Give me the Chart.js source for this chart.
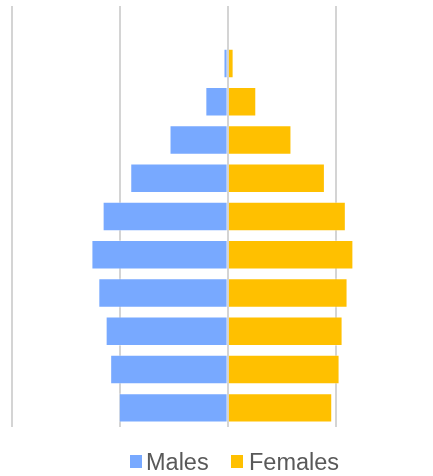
<!DOCTYPE html>
<html>
<head>
<meta charset="utf-8">
<script src="https://cdn.jsdelivr.net/npm/chart.js@4.4.1/dist/chart.umd.min.js"></script>
<style>
  html, body { margin: 0; padding: 0; background: #fff; }
  #wrap { position: relative; width: 433px; height: 476px; }
  #chart { position: absolute; left: 0; top: 0; }
  .lg-box { position: absolute; width: 12px; height: 13px; top: 455px; }
  .lg-text { position: absolute; top: 449px; line-height: 24px; font: 23.5px "Liberation Sans", Arial, sans-serif; color: #595959; white-space: nowrap; }
</style>
</head>
<body>
<div id="wrap">
  <canvas id="chart" width="433" height="476"></canvas>
  <div class="lg-box" style="left:130px;background:#78a9ff"></div>
  <div class="lg-text" style="left:146px">Males</div>
  <div class="lg-box" style="left:231px;background:#ffc000"></div>
  <div class="lg-text" style="left:249px">Females</div>
</div>
<script>
// age groups, oldest at the top
const ageGroups = ['100+', '90-99', '80-89', '70-79', '60-69', '50-59', '40-49', '30-39', '20-29', '10-19', '0-9'];
const males = [0, -0.2, -1.04, -2.7, -4.52, -5.8, -6.32, -6.0, -5.66, -5.45, -5.05];
const females = [0, 0.27, 1.32, 2.95, 4.5, 5.47, 5.82, 5.55, 5.32, 5.18, 4.84];
const gridTicks = [-10, -5, 0, 5];

const ctx = document.getElementById('chart').getContext('2d');
new Chart(ctx, {
  type: 'bar',
  data: {
    labels: ageGroups,
    datasets: [
      { label: 'Males', data: males, backgroundColor: '#78a9ff', borderColor: 'rgba(255,255,255,0.35)', borderWidth: 1 },
      { label: 'Females', data: females, backgroundColor: '#ffc000', borderColor: 'rgba(255,255,255,0.35)', borderWidth: 1 }
    ]
  },
  options: {
    indexAxis: 'y',
    responsive: false,
    animation: false,
    layout: { padding: { left: 12, right: 11, top: 6, bottom: 49 } },
    datasets: { bar: { barPercentage: 0.77, categoryPercentage: 1 } },
    scales: {
      x: {
        stacked: true,
        min: -10,
        max: 9,
        afterBuildTicks: (axis) => { axis.ticks = gridTicks.map(v => ({ value: v })); },
        ticks: { display: false },
        grid: { color: '#d4d4d4', lineWidth: 2, drawTicks: false },
        border: { display: false }
      },
      y: {
        stacked: true,
        display: false
      }
    },
    plugins: {
      legend: { display: false },
      tooltip: { enabled: true }
    }
  }
});
</script>
</body>
</html>
